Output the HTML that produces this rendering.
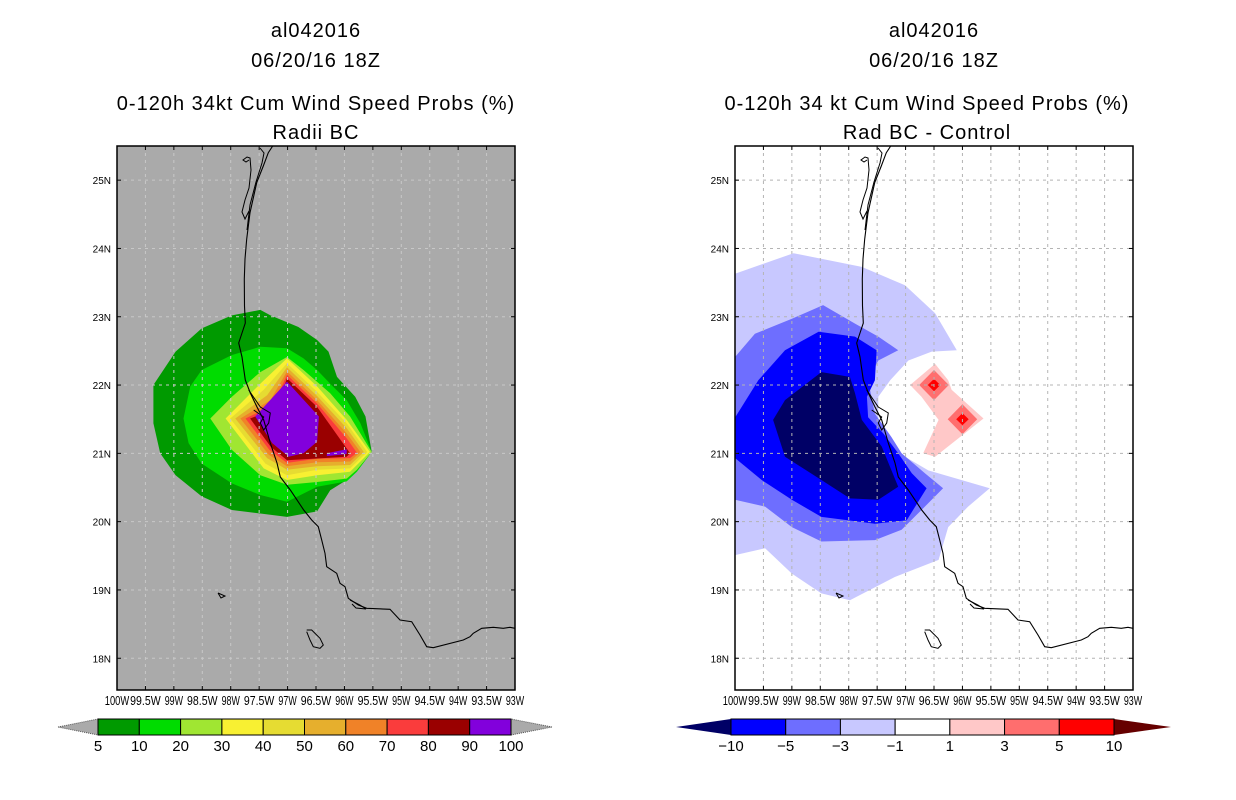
<!DOCTYPE html>
<html><head><meta charset="utf-8"><style>
html,body{margin:0;padding:0;background:#fff;}
svg{display:block;font-family:"Liberation Sans",sans-serif;}
</style></head><body>
<svg id="s" width="1236" height="800" viewBox="0 0 1236 800" xmlns="http://www.w3.org/2000/svg">
<defs>
<clipPath id="clipL"><rect x="117" y="146" width="398" height="544"/></clipPath>
<clipPath id="clipR"><rect x="735" y="146" width="398" height="544"/></clipPath>
</defs>
<g font-size="20" text-anchor="middle" fill="#000" letter-spacing="1">
<text x="316" y="37">al042016</text>
<text x="316" y="67">06/20/16 18Z</text>
<text x="316" y="110">0-120h 34kt Cum Wind Speed Probs (%)</text>
<text x="316" y="139">Radii BC</text>
</g>
<g font-size="20" text-anchor="middle" fill="#000" letter-spacing="1">
<text x="934" y="37">al042016</text>
<text x="934" y="67">06/20/16 18Z</text>
<text x="927" y="110">0-120h 34 kt Cum Wind Speed Probs (%)</text>
<text x="927" y="139">Rad BC - Control</text>
</g>
<rect x="117" y="146" width="398" height="544" fill="#aaaaaa"/>
<rect x="735" y="146" width="398" height="544" fill="#ffffff"/>
<g id="fillsL" clip-path="url(#clipL)"></g>
<g id="fillsR" clip-path="url(#clipR)"></g>
<g id="grids"></g>
<g id="coasts"></g>
<rect x="117" y="146" width="398" height="544" fill="none" stroke="#000" stroke-width="1.5"/>
<rect x="735" y="146" width="398" height="544" fill="none" stroke="#000" stroke-width="1.5"/>
<g id="axes"></g>
<g id="cbars"></g>
</svg>
<script>
// ---- data ----
const lonTicks = [-100,-99.5,-99,-98.5,-98,-97.5,-97,-96.5,-96,-95.5,-95,-94.5,-94,-93.5,-93];
const lonLabels = ["100W","99.5W","99W","98.5W","98W","97.5W","97W","96.5W","96W","95.5W","95W","94.5W","94W","93.5W","93W"];
const latTicks = [18,19,20,21,22,23,24,25];
const latLabels = ["18N","19N","20N","21N","22N","23N","24N","25N"];
const leftLevels = ["5","10","20","30","40","50","60","70","80","90","100"];
const leftColors = ["#009a00","#00dc00","#a0e632","#f8f032","#e6dc32","#e6af2d","#f08228","#fa3c3c","#9a0000","#8200dc"];
const rightLevels = ["\u221210","\u22125","\u22123","\u22121","1","3","5","10"];
const rightColors = ["#0000ff","#6e6eff","#c8c8ff","#ffffff","#ffc8c8","#ff6e6e","#ff0000"];
// contour polygons [lon,lat]
const prob5 = [[-99.36,22.00],[-98.97,22.49],[-98.51,22.83],[-97.98,23.02],[-97.48,23.10],[-97.30,23.02],[-96.81,22.85],[-96.48,22.66],[-96.28,22.49],[-96.13,22.12],[-95.81,21.83],[-95.63,21.54],[-95.52,21.02],[-95.78,20.76],[-95.96,20.61],[-96.25,20.46],[-96.48,20.15],[-97.01,20.07],[-97.48,20.12],[-97.98,20.17],[-98.51,20.37],[-98.97,20.68],[-99.24,21.00],[-99.36,21.44]];
const prob10 = [[-98.83,21.51],[-98.71,21.98],[-98.51,22.22],[-97.98,22.44],[-97.48,22.56],[-97.01,22.54],[-96.72,22.39],[-96.48,22.22],[-96.25,22.02],[-95.96,21.78],[-95.72,21.44],[-95.52,21.02],[-95.78,20.73],[-95.96,20.59],[-96.48,20.51],[-97.01,20.29],[-97.48,20.39],[-97.98,20.56],[-98.51,20.85],[-98.74,21.15]];
const prob20 = [[-98.36,21.51],[-97.98,21.83],[-97.48,22.19],[-97.01,22.41],[-96.72,22.22],[-96.25,21.88],[-95.90,21.54],[-95.52,21.02],[-95.78,20.76],[-95.96,20.63],[-96.48,20.58],[-97.01,20.54],[-97.48,20.68],[-97.98,21.05]];
const prob30 = [[-98.09,21.51],[-97.48,22.02],[-97.01,22.39],[-96.48,21.98],[-95.96,21.49],[-95.55,21.02],[-95.90,20.73],[-96.48,20.68],[-97.01,20.61],[-97.42,20.78]];
const prob40 = [[-98.01,21.51],[-97.42,21.93],[-97.01,22.32],[-96.48,21.90],[-95.96,21.44],[-95.60,21.02],[-95.90,20.78],[-96.48,20.76],[-97.01,20.68],[-97.39,20.85]];
const prob50 = [[-97.92,21.51],[-97.36,21.85],[-97.01,22.26],[-96.48,21.84],[-95.96,21.37],[-95.66,21.02],[-95.90,20.83],[-96.48,20.81],[-97.01,20.76],[-97.36,20.93]];
const prob60 = [[-97.83,21.51],[-97.30,21.78],[-97.01,22.20],[-96.48,21.78],[-95.96,21.29],[-95.72,21.02],[-95.90,20.88],[-96.48,20.87],[-97.01,20.81],[-97.33,20.98]];
const prob70 = [[-97.74,21.51],[-97.25,21.71],[-97.01,22.15],[-96.48,21.73],[-95.96,21.22],[-95.78,21.01],[-95.90,20.93],[-96.48,20.92],[-97.01,20.86],[-97.32,21.05]];
const prob80 = [[-97.66,21.51],[-97.19,21.66],[-97.01,22.10],[-96.48,21.68],[-95.90,21.00],[-95.96,20.95],[-97.01,20.90],[-97.30,21.10]];
const prob90a = [[-97.57,21.54],[-97.01,22.05],[-96.45,21.54],[-96.48,21.17],[-96.72,21.00],[-96.98,20.95],[-97.27,21.15]];
const prob90b = [[-96.31,21.00],[-95.96,21.06],[-95.96,20.99],[-96.31,20.96]];
const diffM1 = [[-100.3,23.63],[-100,23.63],[-98.97,23.93],[-97.77,23.73],[-97.01,23.46],[-96.48,23.05],[-96.10,22.51],[-96.54,22.49],[-96.95,22.36],[-97.27,22.07],[-97.48,21.83],[-97.48,21.39],[-97.36,21.19],[-97.01,20.95],[-96.60,20.75],[-95.52,20.49],[-95.90,20.22],[-96.25,19.92],[-96.42,19.44],[-97.19,19.19],[-97.98,18.85],[-98.48,18.95],[-99.00,19.24],[-99.47,19.61],[-100,19.51],[-100.3,19.51]];
const diffM3 = [[-100.3,22.41],[-100,22.41],[-99.65,22.75],[-99.00,22.97],[-98.45,23.17],[-97.89,22.90],[-97.48,22.71],[-97.13,22.51],[-97.48,22.36],[-97.66,22.07],[-97.54,21.58],[-97.25,21.24],[-97.07,21.00],[-96.66,20.71],[-96.34,20.49],[-96.72,20.17],[-97.07,19.88],[-97.54,19.73],[-98.48,19.71],[-99.00,19.92],[-99.47,20.22],[-100,20.32],[-100.3,20.32]];
const diffM5 = [[-99.12,22.51],[-98.53,22.78],[-97.89,22.71],[-97.51,22.51],[-97.54,22.07],[-97.68,21.83],[-97.66,21.53],[-97.39,21.29],[-97.13,21.00],[-96.89,20.71],[-96.63,20.49],[-96.98,20.02],[-97.54,19.97],[-98.48,20.07],[-99.00,20.32],[-99.53,20.61],[-100.1,21.00],[-100.1,21.39],[-99.59,22.07]];
const diffM10 = [[-99.33,21.49],[-99.12,21.78],[-98.48,22.19],[-97.98,22.12],[-97.89,21.88],[-97.77,21.49],[-97.42,21.10],[-97.13,20.51],[-97.48,20.32],[-97.98,20.34],[-98.48,20.61],[-99.12,20.95]];
const diffP1 = [[-96.92,22.00],[-96.48,22.31],[-96.25,22.07],[-96.19,21.93],[-95.63,21.51],[-96.48,20.95],[-96.69,21.00],[-96.42,21.49],[-96.72,21.83]];
const diffPeakLon = [-96.50,-96.00];
const diffPeakLat = [22.00,21.50];
</script>
<script>
const NS="http://www.w3.org/2000/svg";
const s=document.getElementById('s');
const PXD=56.86, PYD=68.3;
function xs(lon,x0){return x0+(lon+100)*PXD;}
function ys(lat){return 146+(25.5-lat)*PYD;}
function mk(tag,attrs,parent){const e=document.createElementNS(NS,tag);for(const k in attrs)e.setAttribute(k,attrs[k]);parent.appendChild(e);return e;}
function poly(pts,x0,fill,parent,name){
  const p=mk('polygon',{points:pts.map(q=>xs(q[0],x0).toFixed(1)+','+ys(q[1]).toFixed(1)).join(' '),fill:fill},parent);
  
  
}
const fL=document.getElementById('fillsL');
const probPolys=[prob5,prob10,prob20,prob30,prob40,prob50,prob60,prob70,prob80,prob90a];
probPolys.forEach((pp,i)=>poly(pp,117,leftColors[i],fL,'prob-contour-'+leftLevels[i]));
poly(prob90b,117,leftColors[9],fL,'prob-contour-90-small');
const fR=document.getElementById('fillsR');
poly(diffM1,735,rightColors[2],fR,'diff-contour-minus1');
poly(diffM3,735,rightColors[1],fR,'diff-contour-minus3');
poly(diffM5,735,rightColors[0],fR,'diff-contour-minus5');
poly(diffM10,735,'#000066',fR,'diff-contour-minus10');
poly(diffP1,735,rightColors[4],fR,'diff-contour-plus1');
diffPeakLon.forEach((lo,i)=>{
  const la=diffPeakLat[i];
  poly([[lo-0.26,la],[lo,la+0.22],[lo+0.26,la],[lo,la-0.22]],735,rightColors[5],fR,'diff-contour-plus3');
  poly([[lo-0.11,la],[lo,la+0.09],[lo+0.11,la],[lo,la-0.09]],735,rightColors[6],fR,'diff-contour-plus5');
});
// grid
const gg=document.getElementById('grids');
[117,735].forEach(x0=>{
  const col = x0===117 ? '#c8c8c8' : '#b4b4b4';
  lonTicks.forEach((lo,i)=>{ if(i==0||i==lonTicks.length-1)return;
    const l=mk('line',{x1:xs(lo,x0),x2:xs(lo,x0),y1:146,y2:690,stroke:col,'stroke-dasharray':'3,4'},gg);
    
    
  });
  latTicks.forEach(la=>{
    const l=mk('line',{x1:x0,x2:x0+398,y1:ys(la),y2:ys(la),stroke:col,'stroke-dasharray':'3,4'},gg);
    
    
  });
});
// coast (left-panel absolute pixels; right shifted by 618)
const coastMain="M272.7,146 L268.3,152.7 L263.3,166 L256.7,182.7 L250,212.7 L246.7,239 L245,259 L244.3,279 L244.5,306 L245.3,323 L242,333 L238.7,343 L242,357 L245.3,380 L250.3,393 L257,407 L263.7,420 L270.3,443 L277,463 L280.3,477 L290.3,490 L303.7,510 L311.7,520 L318.3,526.7 L321.7,540 L325,553.3 L326.7,566.7 L336.7,573.3 L340,583.3 L345,586.7 L348.3,598.3 L353.3,601.7 L358.3,605 L366.7,608.3 L390,609.3 L400,620 L411.7,621.7 L420,635 L426.7,646.7 L433.3,647.7 L463.3,640 L470,636.7 L473.3,633.3 L481.7,628.3 L493.3,627.3 L503.3,628.3 L510,627.3 L515,628.3";
const coastExtra="M260,148 L264,153 L262,163 L256,182 L250,205 L247,230 M249,160 L246,162 L243,160 L247,157 L250,158 L251,170 L249,188 L245,200 L242,212 L245,219 L249,211 M248.7,390 L260.3,407 L270.3,413 L268.7,423 L263.7,430 L260.3,423 L263.7,417 L253.7,410 M306.7,630 L311.7,630 L320,638.3 L323.3,645 L320,648.3 L313.3,646.7 L310,640 L306.7,631.7 M218,593 L225,596 L221,598 L218,593 M350,600 L360,605 L366,609 L356,608 L352,604";
const cg=document.getElementById('coasts');
[0,618].forEach((dx,i)=>{
  const g=mk('g',{transform:'translate('+dx+',0)'},cg);
  
  
  mk('path',{d:coastMain,fill:'none',stroke:'#000','stroke-width':1.1},g);
  mk('path',{d:coastExtra,fill:'none',stroke:'#000','stroke-width':1},g);
});
// axis labels
const ag=document.getElementById('axes');
[117,735].forEach(x0=>{
  lonTicks.forEach((lo,i)=>{
    const t=mk('text',{x:xs(lo,x0),y:705,'font-size':12.5,'text-anchor':'middle'},ag);
    t.textContent=lonLabels[i];
    
    
    const w=lonLabels[i].length*6.1;
    t.setAttribute('textLength',w.toFixed(1));
    t.setAttribute('lengthAdjust','spacingAndGlyphs');
    mk('line',{x1:xs(lo,x0),x2:xs(lo,x0),y1:690,y2:686,stroke:'#000'},ag);
    mk('line',{x1:xs(lo,x0),x2:xs(lo,x0),y1:146,y2:150,stroke:'#000'},ag);
  });
  latTicks.forEach((la,i)=>{
    const t=mk('text',{x:x0-6,y:ys(la)+4,'font-size':10,'text-anchor':'end'},ag);
    t.textContent=latLabels[i];
    
    
    mk('line',{x1:x0,x2:x0+4,y1:ys(la),y2:ys(la),stroke:'#000'},ag);
    mk('line',{x1:x0+394,x2:x0+398,y1:ys(la),y2:ys(la),stroke:'#000'},ag);
  });
});
// colorbars
const cb=document.getElementById('cbars');
(function(){
  const x0=98,x1=511,y0=719,y1=735,n=leftColors.length,w=(x1-x0)/n,ym=(y0+y1)/2;
  let t=mk('polygon',{points:`58,${ym} ${x0},${y0} ${x0},${y1}`,fill:'#aaaaaa',stroke:'#555','stroke-dasharray':'1,1'},cb);
   
  t=mk('polygon',{points:`552,${ym} ${x1},${y0} ${x1},${y1}`,fill:'#aaaaaa',stroke:'#555','stroke-dasharray':'1,1'},cb);
   
  leftColors.forEach((c,i)=>{
    const r=mk('rect',{x:x0+i*w,y:y0,width:w,height:y1-y0,fill:c,stroke:'#000','stroke-width':1},cb);
    
    
  });
  leftLevels.forEach((l,i)=>{
    const tx=mk('text',{x:x0+i*w,y:751,'font-size':15,'text-anchor':'middle'},cb);
    tx.textContent=l;
    
    
  });
})();
(function(){
  const x0=731,x1=1114,y0=719,y1=735,n=rightColors.length,w=(x1-x0)/n,ym=(y0+y1)/2;
  let t=mk('polygon',{points:`676,${ym} ${x0},${y0} ${x0},${y1}`,fill:'#000066'},cb);
   
  t=mk('polygon',{points:`1171,${ym} ${x1},${y0} ${x1},${y1}`,fill:'#660000'},cb);
   
  rightColors.forEach((c,i)=>{
    const r=mk('rect',{x:x0+i*w,y:y0,width:w,height:y1-y0,fill:c,stroke:'#000','stroke-width':1},cb);
    
    
  });
  rightLevels.forEach((l,i)=>{
    const tx=mk('text',{x:x0+i*w,y:751,'font-size':15,'text-anchor':'middle'},cb);
    tx.textContent=l;
    
    
  });
})();
</script>
</body></html>
